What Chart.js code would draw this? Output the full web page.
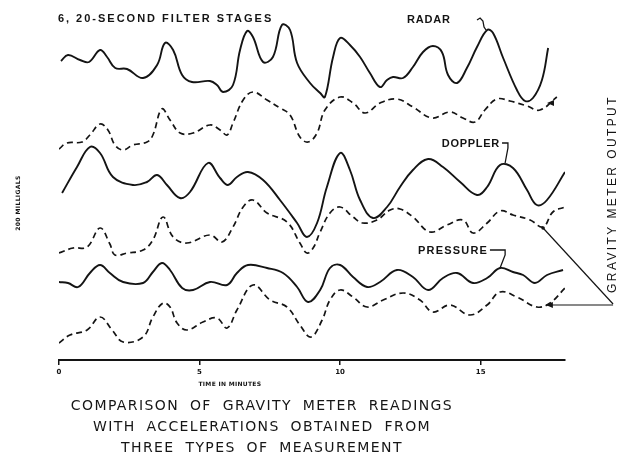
<!DOCTYPE html>
<html><head><meta charset="utf-8">
<script src="https://cdn.jsdelivr.net/npm/chart.js@4"></script>
<style>
html,body{margin:0;padding:0;background:#fff;width:618px;height:459px;overflow:hidden}
#wrap{position:absolute;left:0;top:0;width:618px;height:396px}
#title{position:absolute;left:0;top:395px;width:524px;text-align:center;font-family:"DejaVu Sans";font-size:14px;letter-spacing:1.4px;word-spacing:5px;line-height:21px;color:#161616}
</style></head><body>
<div id="wrap"><canvas id="c"></canvas></div>
<div id="title">COMPARISON OF GRAVITY METER READINGS<br>WITH ACCELERATIONS OBTAINED FROM<br>THREE TYPES OF MEASUREMENT</div>
<script>
// Time in minutes, trace heights in stacked chart units (arbitrary)
const radarT = [0.07,0.32,0.75,1.07,1.46,1.71,2.00,2.42,2.99,3.49,3.77,4.06,4.38,4.73,5.37,5.62,5.84,6.19,6.44,6.69,6.90,7.26,7.61,7.93,8.22,8.47,8.93,9.29,9.46,9.75,10.0,10.35,10.71,11.06,11.42,11.67,11.88,12.24,12.59,12.95,13.30,13.62,13.84,14.16,14.51,14.87,15.23,15.44,15.80,16.29,16.58,16.86,17.18,17.40];
const radarV = [299,305,300,298,310,303,292,291,282,295,317,310,285,278,279,275,268,275,310,329,323,298,303,335,330,297,277,267,263,303,322,315,303,287,273,280,283,282,293,308,314,308,285,277,292,313,330,327,302,270,259,262,280,312];

const radarGravT = [0,0.28,0.82,1.10,1.46,1.74,1.99,2.28,2.63,3.13,3.34,3.66,3.95,4.31,4.77,5.37,5.73,5.98,6.19,6.55,6.90,7.40,7.86,8.22,8.57,8.86,9.18,9.46,10.0,10.46,10.89,11.42,12.02,12.59,13.27,13.91,14.37,14.80,15.15,15.58,16.04,16.65,17.11,17.71];
const radarGravV = [211,217,218,225,236,230,215,210,215,218,225,251,240,227,227,235,230,225,237,260,268,260,252,245,223,218,227,250,263,257,247,257,261,253,242,248,242,238,250,261,259,254,250,263];

const dopplerT = [0.11,0.64,1.10,1.46,1.92,2.63,3.13,3.49,3.84,4.30,4.66,5.30,5.73,6.01,6.33,6.72,7.26,7.86,8.47,8.82,9.18,9.53,10.0,10.35,10.71,11.17,11.67,12.13,12.59,13.13,13.66,14.27,14.87,15.23,15.69,16.15,16.65,17.00,17.36,18.0];
const dopplerV = [167,193,213,207,183,175,178,185,175,162,168,197,182,175,183,188,180,160,137,123,137,173,207,190,160,142,153,173,190,201,193,178,165,173,195,192,170,155,160,188];

const dopplerGravT = [0,0.50,1.00,1.46,1.81,1.99,2.42,2.99,3.34,3.70,4.06,4.55,5.37,5.80,6.19,6.55,6.90,7.40,8.11,8.57,8.82,9.04,9.29,9.64,10.0,10.46,10.81,11.31,11.78,12.13,12.59,13.20,13.80,14.37,14.73,15.23,15.69,16.15,16.76,17.22,17.57,18.0];
const dopplerGravV = [107,112,113,132,116,105,107,110,120,143,123,117,125,118,133,153,160,147,138,117,107,112,128,147,153,143,137,140,150,151,143,128,135,140,127,137,149,145,140,133,148,153];

const pressureT = [0,0.32,0.68,1.10,1.46,1.81,2.28,2.99,3.34,3.66,3.95,4.38,4.77,5.37,5.98,6.33,6.72,7.40,7.97,8.47,8.86,9.29,9.64,10.0,10.46,10.96,11.42,12.02,12.59,13.13,13.66,14.16,14.73,15.23,15.69,16.15,16.51,16.93,17.36,17.93];
const pressureV = [78,77,73,87,95,87,78,77,88,97,90,72,70,78,75,87,95,92,87,73,58,70,92,95,83,73,78,90,83,70,82,87,77,82,92,88,85,77,85,90];

const pressureGravT = [0,0.39,1.00,1.46,1.89,2.28,2.99,3.34,3.70,3.95,4.20,4.55,5.12,5.62,5.98,6.33,6.90,7.51,8.11,8.57,8.96,9.36,9.64,10.0,10.46,10.96,11.53,12.24,12.84,13.30,13.91,14.62,15.23,15.69,16.29,17.00,17.47,18.0];
const pressureGravV = [17,25,30,43,30,18,23,43,57,53,37,30,38,42,32,50,75,60,53,35,23,40,60,70,63,53,60,67,60,48,55,45,55,68,63,53,57,72];

const xTickValues = [0,5,10,15];

const pts = (T,V) => T.map((t,i)=>({x:t,y:V[i]}));
const solid = (label,T,V)=>({label,data:pts(T,V),borderColor:'#141414',borderWidth:1.9,pointRadius:0,tension:0.4,fill:false});
const dashed = (label,T,V)=>({label,data:pts(T,V),borderColor:'#141414',borderWidth:1.7,borderDash:[6,4],pointRadius:0,tension:0.4,fill:false});

const annot = {
  id:'annot',
  afterDraw(chart){
    const {ctx, scales:{x,y}} = chart;
    const P = (t,v)=>[x.getPixelForValue(t), y.getPixelForValue(v)];
    ctx.save();
    ctx.fillStyle='#141414'; ctx.strokeStyle='#141414';
    ctx.textBaseline='middle'; ctx.textAlign='left';
    const text = (s,t,v,font,ls,align)=>{ctx.font=font; ctx.letterSpacing=ls||'0px'; ctx.textAlign=align||'left'; const [px,py]=P(t,v); ctx.fillText(s,px,py);};
    const lbl = 'bold 11px "Liberation Sans"';
    text('6, 20-SECOND FILTER STAGES',-0.04,341,lbl,'2px');
    text('RADAR',12.38,340,lbl,'0.8px');
    text('DOPPLER',13.62,216,lbl,'0.7px');
    text('PRESSURE',12.77,109,lbl,'1.2px');
    text('TIME IN MINUTES',6.08,-24,'bold 6px "DejaVu Sans"','0.3px','center');
    const path = (arr,w)=>{ctx.beginPath(); ctx.lineWidth=w; ctx.setLineDash([]); arr.forEach((p,i)=>{const [px,py]=P(p[0],p[1]); i?ctx.lineTo(px,py):ctx.moveTo(px,py);}); ctx.stroke();};
    path([[14.87,340],[14.98,342],[15.08,339],[15.12,333],[15.19,330]],1.3);
    path([[15.76,217],[15.97,217],[15.97,212],[15.87,197]],1.3);
    path([[15.33,110],[15.87,110],[15.87,105],[15.69,92]],1.3);
    path([[17.22,132],[19.71,56]],1.2);
    path([[17.32,55],[19.71,55]],1.2);
    const tri = (t,v,dir)=>{const [px,py]=P(t,v); ctx.beginPath(); ctx.moveTo(px,py); ctx.lineTo(px+7*dir,py-3); ctx.lineTo(px+7*dir,py+3); ctx.closePath(); ctx.fill();};
    tri(17.32,55,1);
    tri(17.36,257,1);
    const [dx,dy]=P(17.22,132); ctx.beginPath(); ctx.arc(dx,dy,1.8,0,Math.PI*2); ctx.fill();
    // rotated texts
    const rot = (s,t,v,font,ls)=>{const [px,py]=P(t,v); ctx.save(); ctx.translate(px,py); ctx.rotate(-Math.PI/2); ctx.font=font; ctx.letterSpacing=ls; ctx.textAlign='center'; ctx.fillText(s,0,0); ctx.restore();};
    rot('GRAVITY METER OUTPUT',19.71,166,'12px "Liberation Sans"','2.4px');
    rot('200 MILLIGALS',-1.46,157,'bold 6px "DejaVu Sans"','0.4px');
    ctx.restore();
  }
};

new Chart(document.getElementById('c'),{
  type:'line',
  data:{datasets:[
    solid('Radar',radarT,radarV),
    dashed('Gravity meter (radar)',radarGravT,radarGravV),
    solid('Doppler',dopplerT,dopplerV),
    dashed('Gravity meter (doppler)',dopplerGravT,dopplerGravV),
    solid('Pressure',pressureT,pressureV),
    dashed('Gravity meter (pressure)',pressureGravT,pressureGravV)
  ]},
  options:{
    responsive:true, maintainAspectRatio:false, animation:false,
    layout:{padding:{left:59,right:53,top:0,bottom:0}},
    plugins:{legend:{display:false},tooltip:{enabled:false},title:{display:false}},
    scales:{
      x:{type:'linear',min:0,max:18,
        afterBuildTicks:(s)=>{s.ticks=xTickValues.map(v=>({value:v}));},
        afterFit:(s)=>{s.height=36;},
        ticks:{font:{family:'DejaVu Sans',size:7,weight:'bold'},color:'#141414',padding:3,maxRotation:0},
        grid:{drawOnChartArea:false,tickLength:5,color:'#141414',lineWidth:1.5},
        border:{display:true,color:'#141414',width:2}
      },
      y:{display:false,min:0,max:360}
    }
  },
  plugins:[annot]
});
</script>
</body></html>
